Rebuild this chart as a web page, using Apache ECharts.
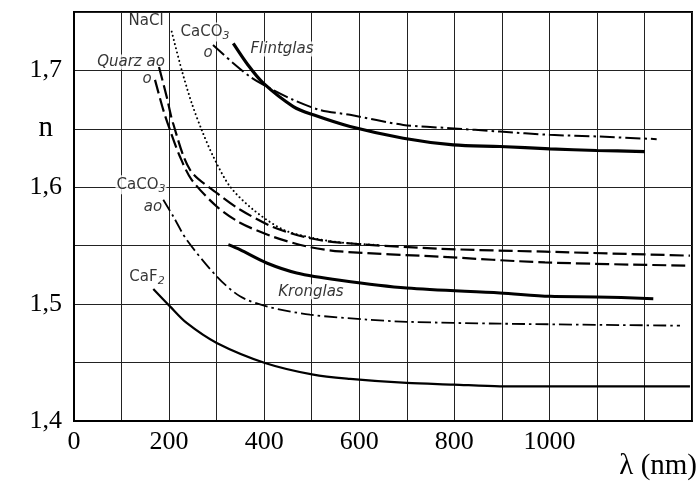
<!DOCTYPE html>
<html>
<head>
<meta charset="utf-8">
<script src="https://cdn.jsdelivr.net/npm/echarts@6/dist/echarts.min.js"></script>
<style>html,body{margin:0;padding:0;background:#fff}#c{width:700px;height:481px}</style>
</head>
<body>
<div id="c"></div>
<script>
// wavelength (nm), refractive index n
const nacl = [[205.5,1.7332],[226.5,1.7004],[247.6,1.672],[268.6,1.6491],[293,1.6263],[328.1,1.6007],[377.2,1.5808],[440.3,1.5637],[502.7,1.5566],[560,1.5528],[640,1.5505]];
const quarzAo = [[178.8,1.703],[194.9,1.6776],[208.2,1.655],[244,1.615],[300.8,1.595],[349,1.581],[418.6,1.566],[490,1.557],[559.5,1.5526],[770,1.5474],[990.7,1.5449],[1295.7,1.5415]];
const quarzO = [[170.4,1.6919],[187.8,1.6662],[201.9,1.6491],[223,1.6261],[247.6,1.6064],[300.2,1.5836],[349.2,1.5697],[418.6,1.5577],[489.5,1.5494],[559.5,1.5451],[770,1.5406],[990.7,1.5357],[1295.7,1.5329]];
const caco3O = [[292.4,1.7218],[334.5,1.7064],[370.2,1.6947],[405.3,1.6862],[461.3,1.6748],[517.5,1.6662],[580.6,1.662],[692.7,1.6534],[791.3,1.6506],[896.1,1.6477],[1001.3,1.6449],[1106.4,1.6434],[1225.7,1.6412]];
const flintglas = [[335.1,1.7232],[366,1.7047],[398.2,1.6891],[461.3,1.6691],[503.4,1.662],[580.6,1.652],[692.7,1.642],[797.9,1.6363],[896.1,1.6349],[1001.3,1.6329],[1099.5,1.6315],[1201,1.6306]];
const kronglas = [[324.6,1.5509],[349.2,1.5466],[405.3,1.5352],[468.4,1.5267],[559.5,1.5205],[699.8,1.5138],[896.1,1.5096],[1001.3,1.5067],[1099.5,1.5062],[1218.6,1.5047]];
const caco3Ao = [[187.8,1.5893],[208.9,1.575],[237,1.5551],[300.2,1.5238],[349.2,1.5067],[405.3,1.4981],[496.4,1.491],[615.7,1.4868],[699.8,1.4849],[896.1,1.4833],[1274.7,1.4816]];
const caf2 = [[166.8,1.513],[201.9,1.4981],[237,1.4839],[300.2,1.4668],[401.8,1.4497],[503.4,1.4397],[580.6,1.4361],[699.8,1.4326],[797.9,1.4312],[896.1,1.4297],[1295.7,1.4297]];

const xLabels = [0, 200, 400, 600, 800, 1000];
const yLabels = ['1,4', '1,5', '1,6', '1,7'];

// curve annotations (text and anchor in data units)
const annotations = [
  {text: 'NaCl', at: [151.5, 1.7423]},
  {text: 'CaCO{s|3}', at: [275.6, 1.7329]},
  {text: '{i|o}', at: [281.9, 1.715]},
  {text: '{i|Flintglas}', at: [437.5, 1.7184]},
  {text: '{i|Quarz ao}', at: [119.9, 1.7073]},
  {text: '{i|o}', at: [153.6, 1.6927]},
  {text: 'CaCO{s|3}', at: [140.9, 1.6021]},
  {text: '{i|ao}', at: [166.2, 1.5833]},
  {text: 'CaF{s|2}', at: [153.6, 1.5235]},
  {text: '{i|Kronglas}', at: [498.5, 1.5107]}
];

function curve(name, data, width, type, cap) {
  return {
    name: name, type: 'line', data: data, smooth: 0.3,
    symbol: 'none', silent: true,
    lineStyle: {color: '#000', width: width, type: type, cap: cap || 'butt'}
  };
}

const chart = echarts.init(document.getElementById('c'));
chart.setOption({
  animation: false,
  grid: {left: 74, right: 8, top: 12, bottom: 59.5, show: true, borderColor: '#000', borderWidth: 2, backgroundColor: 'transparent'},
  xAxis: {
    type: 'value', min: 0, max: 1300, interval: 100,
    axisLine: {show: true, lineStyle: {color: '#000', width: 2}},
    axisTick: {show: false},
    splitLine: {show: true, lineStyle: {color: '#222', width: 1}},
    axisLabel: {
      color: '#000', fontFamily: 'Liberation Serif', fontSize: 26, margin: 8,
      formatter: v => xLabels.indexOf(Math.round(v)) >= 0 ? String(Math.round(v)) : ''
    },
    name: 'λ (nm)', nameLocation: 'end', nameGap: 5,
    nameTextStyle: {color: '#000', fontFamily: 'Liberation Serif', fontSize: 29, align: 'right', verticalAlign: 'top', padding: [31, 0, 0, 0]}
  },
  yAxis: {
    type: 'value', min: 1.4, max: 1.75, interval: 0.05,
    axisLine: {show: true, lineStyle: {color: '#000', width: 2}},
    axisTick: {show: false},
    splitLine: {show: true, lineStyle: {color: '#222', width: 1}},
    axisLabel: {
      color: '#000', fontFamily: 'Liberation Serif', fontSize: 26, margin: 12,
      formatter: v => {
        const r = Math.round(v * 100);
        if (r === 165) return '{n|n}';
        if (r % 10 === 0 && r <= 170) return yLabels[(r - 140) / 10];
        return '';
      },
      rich: {n: {fontFamily: 'Liberation Serif', fontSize: 29, color: '#000', padding: [0, 9, 0, 0]}}
    }
  },
  series: [
    curve('NaCl', nacl, 2, [0.1, 4.2], 'round'),
    curve('Quarz ao', quarzAo, 2.2, [14, 5]),
    curve('Quarz o', quarzO, 2.2, [14, 5]),
    curve('CaCO3 o', caco3O, 2, [15, 4, 2.5, 4]),
    curve('Flintglas', flintglas, 3.2, 'solid'),
    curve('Kronglas', kronglas, 3, 'solid'),
    curve('CaCO3 ao', caco3Ao, 1.8, [13, 4, 2.5, 4]),
    curve('CaF2', caf2, 2.2, 'solid'),
    {
      type: 'scatter', symbolSize: 0, silent: true,
      data: annotations.map(a => ({value: a.at, label: {formatter: a.text}})),
      label: {
        show: true, position: 'inside', color: '#000',
        fontFamily: 'DejaVu Sans', fontSize: 15,
        backgroundColor: '#fff', padding: [0, 1],
        rich: {
          s: {fontFamily: 'DejaVu Sans', fontSize: 11, fontStyle: 'italic', color: '#000', padding: [8, 0, 0, 0]},
          i: {fontFamily: 'DejaVu Sans', fontSize: 15, fontStyle: 'italic', color: '#000'}
        }
      }
    }
  ]
});
</script>
</body>
</html>
